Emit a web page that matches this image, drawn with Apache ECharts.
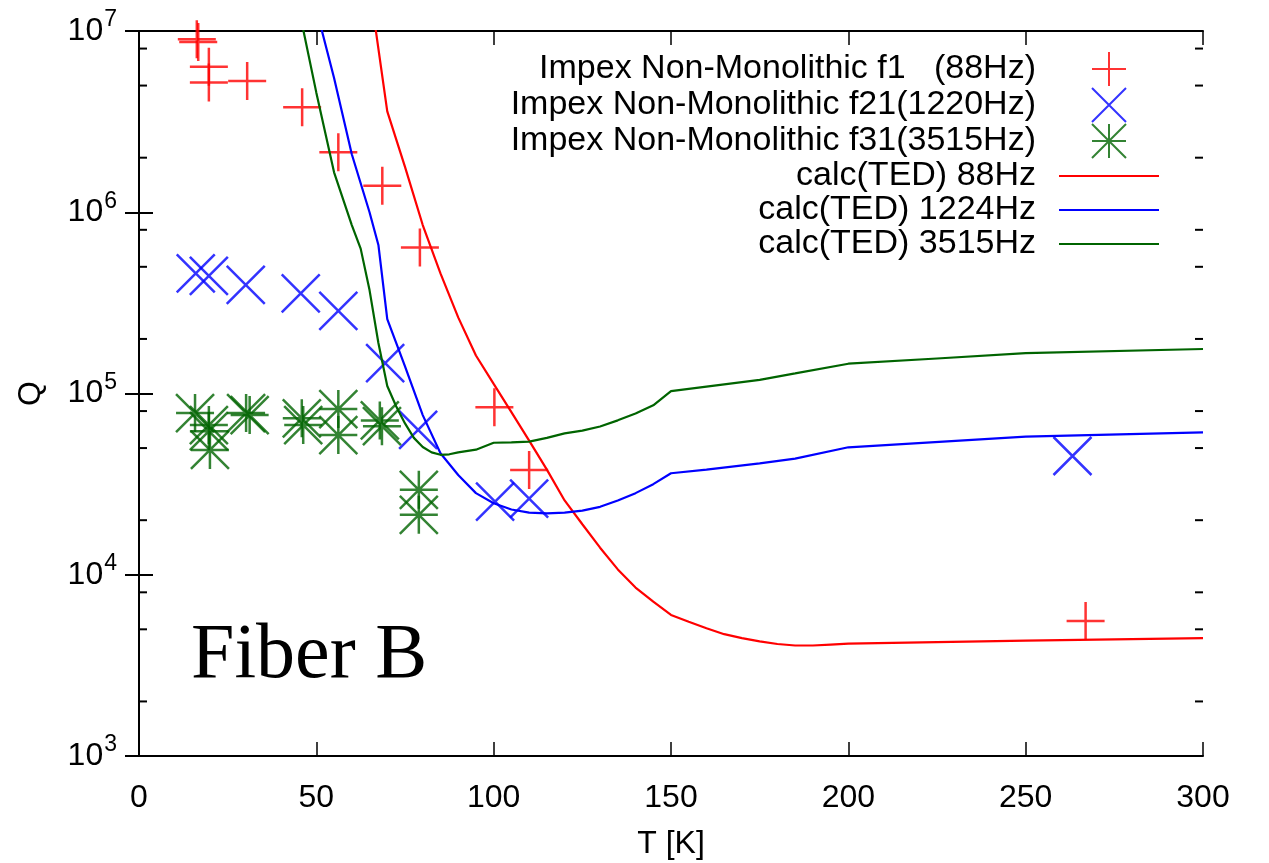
<!DOCTYPE html>
<html>
<head>
<meta charset="utf-8">
<script src="https://cdn.jsdelivr.net/npm/echarts@6/dist/echarts.min.js"></script>
<style>
  html, body { margin: 0; padding: 0; background: #fff; }
  #chart { width: 1269px; height: 863px; }
</style>
</head>
<body>
<div id="chart"></div>
<script>
// measured points, T [K] and Q
var f1T  = [16.3, 16.7, 19.7, 19.7, 30.5, 46.0, 56.2, 68.6, 79.2, 100.2, 110.0, 266.9];
var f1Q  = [9.0e6, 8.7e6, 6.35e6, 5.2e6, 5.3e6, 3.8e6, 2.14e6, 1.4e6, 6.4e5, 8.4e4, 3.78e4, 5.56e3];
var f21T = [16.0, 19.7, 30.1, 45.6, 56.2, 69.4, 78.7, 100.4, 110.0, 263.2];
var f21Q = [4.6e5, 4.45e5, 3.97e5, 3.57e5, 2.86e5, 1.47e5, 6.3e4, 2.53e4, 2.63e4, 4.52e4];
var f31T = [15.8, 19.7, 19.7, 20.0, 30.2, 31.2, 45.9, 46.3, 56.2, 56.2, 67.9, 68.5, 78.9, 78.9];
var f31Q = [7.8e4, 6.7e4, 6.2e4, 4.88e4, 7.8e4, 7.6e4, 7.3e4, 6.7e4, 8.2e4, 5.9e4, 7.1e4, 6.6e4, 2.94e4, 2.14e4];

// calc(TED) curves
var ted88T = [60, 70, 75, 80, 85, 90, 95, 100, 105, 110, 115, 120, 125, 130, 135, 140, 145, 150,
              155, 160, 165, 170, 175, 180, 185, 190, 195, 200, 250, 300];
var ted88Q = [8.7e7, 3.6e6, 1.78e6, 8.5e5, 4.6e5, 2.63e5, 1.62e5, 1.13e5, 7.9e4, 5.5e4, 3.8e4, 2.57e4,
              1.9e4, 1.41e4, 1.07e4, 8.5e3, 7.1e3, 6.0e3, 5.5e3, 5.07e3, 4.7e3, 4.47e3, 4.29e3, 4.15e3,
              4.07e3, 4.07e3, 4.12e3, 4.17e3, 4.33e3, 4.47e3];
var ted1224T = [45, 50, 55, 60, 65, 67.5, 70, 75, 80, 85, 90, 95, 100, 105, 110, 115, 120, 125, 130,
                135, 140, 145, 150, 160, 175, 185, 200, 250, 300];
var ted1224Q = [3.2e7, 1.32e7, 5.5e6, 2.09e6, 1.0e6, 6.6e5, 2.57e5, 1.41e5, 7.6e4, 4.68e4, 3.55e4,
                2.82e4, 2.48e4, 2.29e4, 2.2e4, 2.18e4, 2.2e4, 2.26e4, 2.37e4, 2.57e4, 2.82e4, 3.16e4,
                3.63e4, 3.8e4, 4.12e4, 4.37e4, 5.05e4, 5.78e4, 6.11e4];
var ted3515T = [40, 45, 50, 55, 60, 62.5, 65, 67.5, 70, 72.5, 75, 77.5, 80, 82.5, 85, 87.5, 90, 95,
                100, 105, 110, 115, 120, 125, 130, 135, 140, 145, 150, 175, 185, 200, 225, 250, 300];
var ted3515Q = [4.0e7, 1.35e7, 4.57e6, 1.66e6, 8.5e5, 6.3e5, 3.72e5, 1.9e5, 1.1e5, 8.5e4, 6.84e4,
                5.69e4, 5.07e4, 4.73e4, 4.59e4, 4.62e4, 4.73e4, 4.9e4, 5.35e4, 5.37e4, 5.43e4, 5.69e4,
                6.03e4, 6.24e4, 6.58e4, 7.11e4, 7.76e4, 8.61e4, 1.03e5, 1.19e5, 1.29e5, 1.46e5, 1.56e5,
                1.67e5, 1.76e5];

var minorTicksQ = [2e3, 5e3, 8e3, 2e4, 5e4, 8e4, 2e5, 5e5, 8e5, 2e6, 5e6, 8e6];

var names = [
  'Impex Non-Monolithic f1   (88Hz)',
  'Impex Non-Monolithic f21(1220Hz)',
  'Impex Non-Monolithic f31(3515Hz)',
  'calc(TED) 88Hz',
  'calc(TED) 1224Hz',
  'calc(TED) 3515Hz'
];

function zip(a, b) {
  return a.map(function (v, i) { return [v, b[i]]; });
}

var FONT = 'Liberation Sans';
var plusPath = 'path://M0,-1L0,1M-1,0L1,0';
var crossPath = 'path://M-1,-1L1,1M-1,1L1,-1';
var starPath = 'path://M0,-1L0,1M-1,0L1,0M-1,-1L1,1M-1,1L1,-1';

function pointSeries(name, sym, col, data) {
  return {
    name: name,
    type: 'scatter',
    symbol: sym,
    symbolSize: 38,
    itemStyle: { color: 'transparent', borderColor: col, borderWidth: 2.5 },
    emphasis: { disabled: true },
    data: data
  };
}

function lineSeries(name, col, data) {
  return {
    name: name,
    type: 'line',
    symbol: 'none',
    smooth: false,
    lineStyle: { color: col, width: 2.2 },
    itemStyle: { color: col },
    emphasis: { disabled: true },
    data: data
  };
}

var myChart = echarts.init(document.getElementById('chart'));

var axisLineStyle = { show: true, lineStyle: { color: '#000', width: 2 } };

var legendData = names.map(function (n, i) {
  return i < 3 ? { name: n } : { name: n, itemStyle: { opacity: 0 } };
});

var option = {
  animation: false,
  backgroundColor: '#fff',
  grid: { left: 139, top: 31, right: 66, bottom: 107, outerBoundsMode: 'none' },
  legend: {
    orient: 'vertical',
    align: 'right',
    right: 104,
    top: 46,
    itemGap: 0,
    itemWidth: 100,
    itemHeight: 34,
    selectedMode: false,
    textStyle: { fontFamily: FONT, fontSize: 34, lineHeight: 34, color: '#000', padding: [0, 18, 0, 0] },
    data: legendData
  },
  xAxis: [{
    type: 'value',
    min: 0, max: 300, interval: 50,
    position: 'bottom',
    name: 'T [K]',
    nameLocation: 'middle',
    nameGap: 72,
    nameTextStyle: { fontFamily: FONT, fontSize: 32, color: '#000' },
    axisLine: axisLineStyle,
    axisTick: { inside: true, length: 14, lineStyle: { color: '#000', width: 1.5 } },
    axisLabel: { fontFamily: FONT, fontSize: 32, color: '#000', margin: 26 },
    splitLine: { show: false }
  }, {
    type: 'value',
    min: 0, max: 300, interval: 50,
    position: 'top',
    axisLine: axisLineStyle,
    axisTick: { inside: true, length: 14, lineStyle: { color: '#000', width: 1.5 } },
    axisLabel: { show: false },
    splitLine: { show: false }
  }],
  yAxis: [{
    type: 'log',
    logBase: 10,
    min: 1e3, max: 1e7,
    position: 'left',
    name: 'Q',
    nameLocation: 'middle',
    nameRotate: 90,
    nameGap: 92,
    nameTextStyle: { fontFamily: FONT, fontSize: 32, color: '#000' },
    axisLine: axisLineStyle,
    axisTick: { inside: true, length: 14, lineStyle: { color: '#000', width: 2 } },
    axisLabel: {
      margin: 22,
      formatter: function (v) {
        return '{b|10}{s|' + Math.round(Math.log10(v)) + '}';
      },
      rich: {
        b: { fontFamily: FONT, fontSize: 32, color: '#000' },
        s: { fontFamily: FONT, fontSize: 23, color: '#000', padding: [0, 0, 22, 1] }
      }
    },
    splitLine: { show: false }
  }, {
    type: 'log',
    logBase: 10,
    min: 1e3, max: 1e7,
    position: 'right',
    axisLine: axisLineStyle,
    axisTick: { inside: true, length: 14, lineStyle: { color: '#000', width: 2 } },
    axisLabel: { show: false },
    splitLine: { show: false }
  }],
  graphic: [{
    type: 'text',
    left: 191,
    top: 618,
    style: {
      text: 'Fiber B',
      fontFamily: 'Liberation Serif',
      fontSize: 78,
      fill: '#000'
    }
  }],
  series: [
    pointSeries(names[0], plusPath, '#ff0000', zip(f1T, f1Q)),
    pointSeries(names[1], crossPath, '#0000ff', zip(f21T, f21Q)),
    pointSeries(names[2], starPath, '#006400', zip(f31T, f31Q)),
    lineSeries(names[3], '#ff0000', zip(ted88T, ted88Q)),
    lineSeries(names[4], '#0000ff', zip(ted1224T, ted1224Q)),
    lineSeries(names[5], '#006400', zip(ted3515T, ted3515Q)),
    {
      name: 'minorTicks',
      type: 'custom',
      silent: true,
      clip: false,
      renderItem: function (params, api) {
        var y = api.coord([0, api.value(1)])[1];
        var cs = params.coordSys;
        var st = { stroke: '#000', lineWidth: 2 };
        return {
          type: 'group',
          children: [
            { type: 'line', shape: { x1: cs.x, y1: y, x2: cs.x + 8, y2: y }, style: st },
            { type: 'line', shape: { x1: cs.x + cs.width - 8, y1: y, x2: cs.x + cs.width, y2: y }, style: st }
          ]
        };
      },
      data: minorTicksQ.map(function (q) { return [0, q]; })
    }
  ]
};

myChart.setOption(option);
</script>
</body>
</html>
